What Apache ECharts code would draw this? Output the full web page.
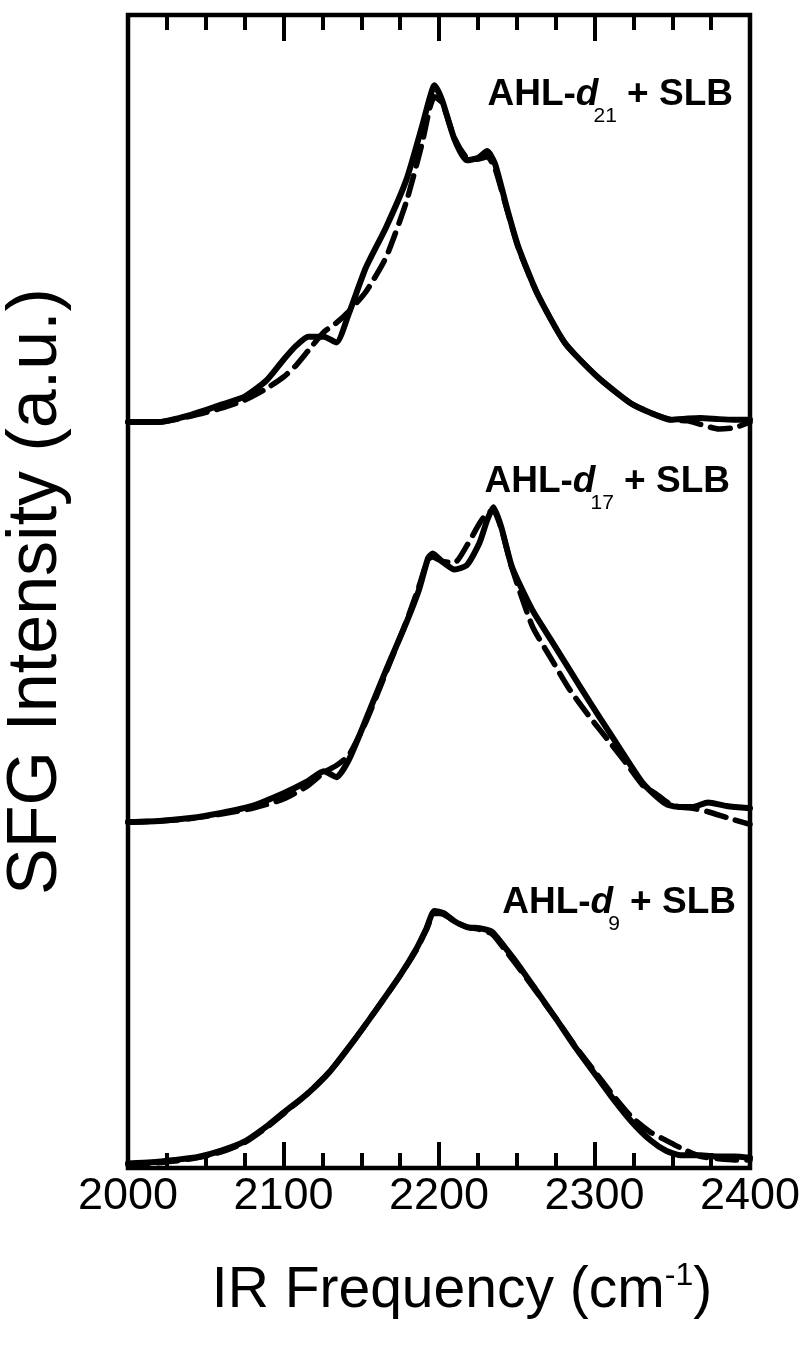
<!DOCTYPE html>
<html>
<head>
<meta charset="utf-8">
<script src="https://cdn.jsdelivr.net/npm/echarts@6/dist/echarts.min.js"></script>
<style>
  html, body { margin: 0; padding: 0; background: #fff; }
  #chart { width: 811px; height: 1349px; }
</style>
</head>
<body>
<div id="chart"></div>
<script>
// IR frequency (cm-1) and SFG intensity (a.u.)
const d9Freq = [2000, 2015, 2030, 2045, 2060, 2075, 2090, 2100, 2115, 2130, 2145, 2160, 2175, 2185, 2192, 2197, 2203, 2210, 2218, 2226, 2234, 2242, 2250, 2262, 2275, 2288, 2300, 2312, 2324, 2336, 2346, 2356, 2368, 2380, 2390, 2400];
const d9Exp = [0.4, 0.5, 0.7, 0.95, 1.5, 2.3, 3.7, 4.8, 6.4, 8.4, 11.0, 13.8, 16.7, 18.9, 20.8, 22.3, 22.1, 21.4, 20.9, 20.8, 20.5, 19.2, 17.8, 15.5, 13.0, 10.4, 8.2, 6.0, 4.0, 2.4, 1.5, 1.1, 1.1, 1.0, 1.0, 0.9];
const d9Fit = [0.3, 0.4, 0.6, 0.9, 1.4, 2.2, 3.6, 4.7, 6.4, 8.4, 11.0, 13.8, 16.7, 18.8, 20.7, 22.1, 22.0, 21.4, 20.9, 20.7, 20.3, 19.0, 17.6, 15.4, 13.0, 10.5, 8.4, 6.3, 4.4, 3.1, 2.4, 1.7, 1.0, 0.8, 0.7, 0.7];

const d17Freq = [2000, 2020, 2040, 2060, 2080, 2100, 2115, 2126, 2134, 2142, 2153, 2166, 2179, 2187, 2193, 2196, 2202, 2210, 2218, 2226, 2231, 2235, 2240, 2247, 2260, 2272, 2284, 2297, 2310, 2321, 2331, 2340, 2347, 2355, 2363, 2373, 2385, 2400];
const d17Exp = [0.0, 0.1, 0.35, 0.8, 1.4, 2.5, 3.5, 4.4, 3.9, 5.4, 8.9, 13.2, 17.3, 20.1, 22.9, 23.3, 22.6, 21.9, 22.3, 24.2, 26.2, 27.3, 25.6, 22.1, 18.4, 15.8, 13.2, 10.4, 7.7, 5.4, 3.4, 2.2, 1.5, 1.3, 1.3, 1.7, 1.4, 1.2];
const d17Fit = [0.0, 0.1, 0.3, 0.7, 1.2, 2.0, 3.1, 4.3, 4.9, 5.8, 8.7, 13.0, 17.4, 20.4, 22.8, 23.0, 22.6, 22.5, 24.0, 25.9, 26.8, 27.0, 25.5, 22.0, 17.0, 14.2, 11.5, 9.1, 6.9, 5.0, 3.2, 2.4, 1.7, 1.3, 1.2, 0.9, 0.4, -0.2];

const d21Freq = [2000, 2020, 2040, 2060, 2075, 2089, 2100, 2108, 2116, 2126, 2134, 2142, 2153, 2166, 2179, 2189, 2194, 2197, 2202, 2210, 2218, 2225, 2231, 2236, 2244, 2251, 2263, 2281, 2302, 2323, 2336, 2349, 2360, 2368, 2380, 2390, 2400];
const d21Exp = [0.2, 0.2, 0.8, 1.7, 2.4, 3.8, 5.6, 6.8, 7.6, 7.6, 7.1, 9.6, 13.6, 17.1, 21.2, 25.8, 28.3, 29.4, 28.1, 24.7, 22.9, 23.1, 23.7, 22.6, 18.6, 15.4, 11.4, 7.05, 4.1, 1.85, 1.0, 0.4, 0.5, 0.55, 0.45, 0.4, 0.4];
const d21Fit = [0.2, 0.2, 0.7, 1.4, 2.1, 3.1, 4.1, 5.1, 6.4, 8.0, 8.8, 9.8, 11.5, 14.5, 19.3, 24.3, 27.4, 28.4, 27.9, 24.8, 23.1, 23.0, 23.2, 22.2, 18.5, 15.3, 11.4, 7.05, 4.1, 1.85, 1.0, 0.4, 0.3, 0.0, -0.4, -0.3, 0.2];

// vertical offsets of the stacked spectra
const offsets = { d9: 0, d17: 30, d21: 64.5 };

const xTicks = [2000, 2100, 2200, 2300, 2400];

const font = "'Liberation Sans', Arial, sans-serif";

function pairs(freq, vals, off) {
  return freq.map((f, i) => [f, vals[i] + off]);
}

function lineSeries(data, dashed) {
  return {
    type: "line",
    data: data,
    showSymbol: false,
    smooth: 0.2,
    silent: true,
    lineStyle: {
      color: "#000",
      width: dashed ? 5.5 : 6,
      type: dashed ? [20, 10] : "solid",
      cap: "round"
    },
    z: dashed ? 2 : 3
  };
}

const tickStyle = {
  axisLine: { show: false },
  axisTick: { show: true, inside: true, length: 26, lineStyle: { color: "#000", width: 4 } },
  minorTick: { show: true, splitNumber: 4, length: 15, lineStyle: { color: "#000", width: 4 } },
  splitLine: { show: false },
  minorSplitLine: { show: false }
};

// label pieces laid out side by side, subscript dropped below the baseline
const measureCtx = document.createElement("canvas").getContext("2d");
function textWidth(str, f) {
  measureCtx.font = f;
  return measureCtx.measureText(str).width;
}

function sampleLabel(sub, right, cy) {
  const fMain = "bold 37px " + font;
  const fItal = "italic bold 37px " + font;
  const fSub = "21px " + font;
  const parts = [["AHL-", fMain, 0, 0], ["d", fItal, 0, -5], [sub, fSub, 21, 0], [" + SLB", fMain, 0, 0]];
  const widths = parts.map(p => textWidth(p[0], p[1]) + p[3]);
  let x = right - widths.reduce((a, b) => a + b, 0);
  return parts.map((p, i) => {
    const el = {
      type: "text",
      x: x,
      y: cy + p[2],
      silent: true,
      style: { text: p[0], font: p[1], fill: "#000", align: "left", verticalAlign: "middle" }
    };
    x += widths[i];
    return el;
  });
}

const chart = echarts.init(document.getElementById("chart"));
chart.setOption({
  animation: false,
  backgroundColor: "#fff",
  grid: {
    left: 128,
    right: 61,
    top: 15,
    bottom: 181,
    containLabel: false,
    outerBoundsMode: "none",
    show: true,
    borderColor: "#000",
    borderWidth: 4.5
  },
  xAxis: [
    Object.assign({
      type: "value",
      min: xTicks[0],
      max: xTicks[xTicks.length - 1],
      interval: 100,
      position: "bottom",
      axisLabel: {
        fontSize: 45,
        color: "#000",
        fontFamily: font,
        margin: 6,
        formatter: v => String(v)
      }
    }, tickStyle),
    Object.assign({
      type: "value",
      min: xTicks[0],
      max: xTicks[xTicks.length - 1],
      interval: 100,
      position: "top",
      axisLabel: { show: false }
    }, tickStyle)
  ],
  yAxis: {
    type: "value",
    min: 0,
    max: 100,
    axisLine: { show: false },
    axisTick: { show: false },
    axisLabel: { show: false },
    splitLine: { show: false },
    name: "SFG Intensity (a.u.)",
    nameLocation: "middle",
    nameRotate: 90,
    nameGap: 56,
    nameTextStyle: { fontSize: 70, color: "#000", fontFamily: font }
  },
  series: [
    lineSeries(pairs(d21Freq, d21Fit, offsets.d21), true),
    lineSeries(pairs(d21Freq, d21Exp, offsets.d21), false),
    lineSeries(pairs(d17Freq, d17Fit, offsets.d17), true),
    lineSeries(pairs(d17Freq, d17Exp, offsets.d17), false),
    lineSeries(pairs(d9Freq, d9Fit, offsets.d9), true),
    lineSeries(pairs(d9Freq, d9Exp, offsets.d9), false)
  ],
  graphic: [].concat(
    sampleLabel("21", 733, 95),
    sampleLabel("17", 730, 482),
    sampleLabel("9", 736, 903),
    [{
      type: "text",
      x: 462,
      y: 1260,
      silent: true,
      style: {
        text: "{a|IR Frequency (cm}{s|-1}{a|)}",
        rich: {
          a: { fontSize: 57, fontFamily: font, fill: "#000", lineHeight: 60, verticalAlign: "bottom" },
          s: { fontSize: 32, fontFamily: font, fill: "#000", lineHeight: 30, verticalAlign: "top" }
        },
        align: "center",
        verticalAlign: "top"
      }
    }]
  )
});
window.onresize = chart.resize;
</script>
</body>
</html>
